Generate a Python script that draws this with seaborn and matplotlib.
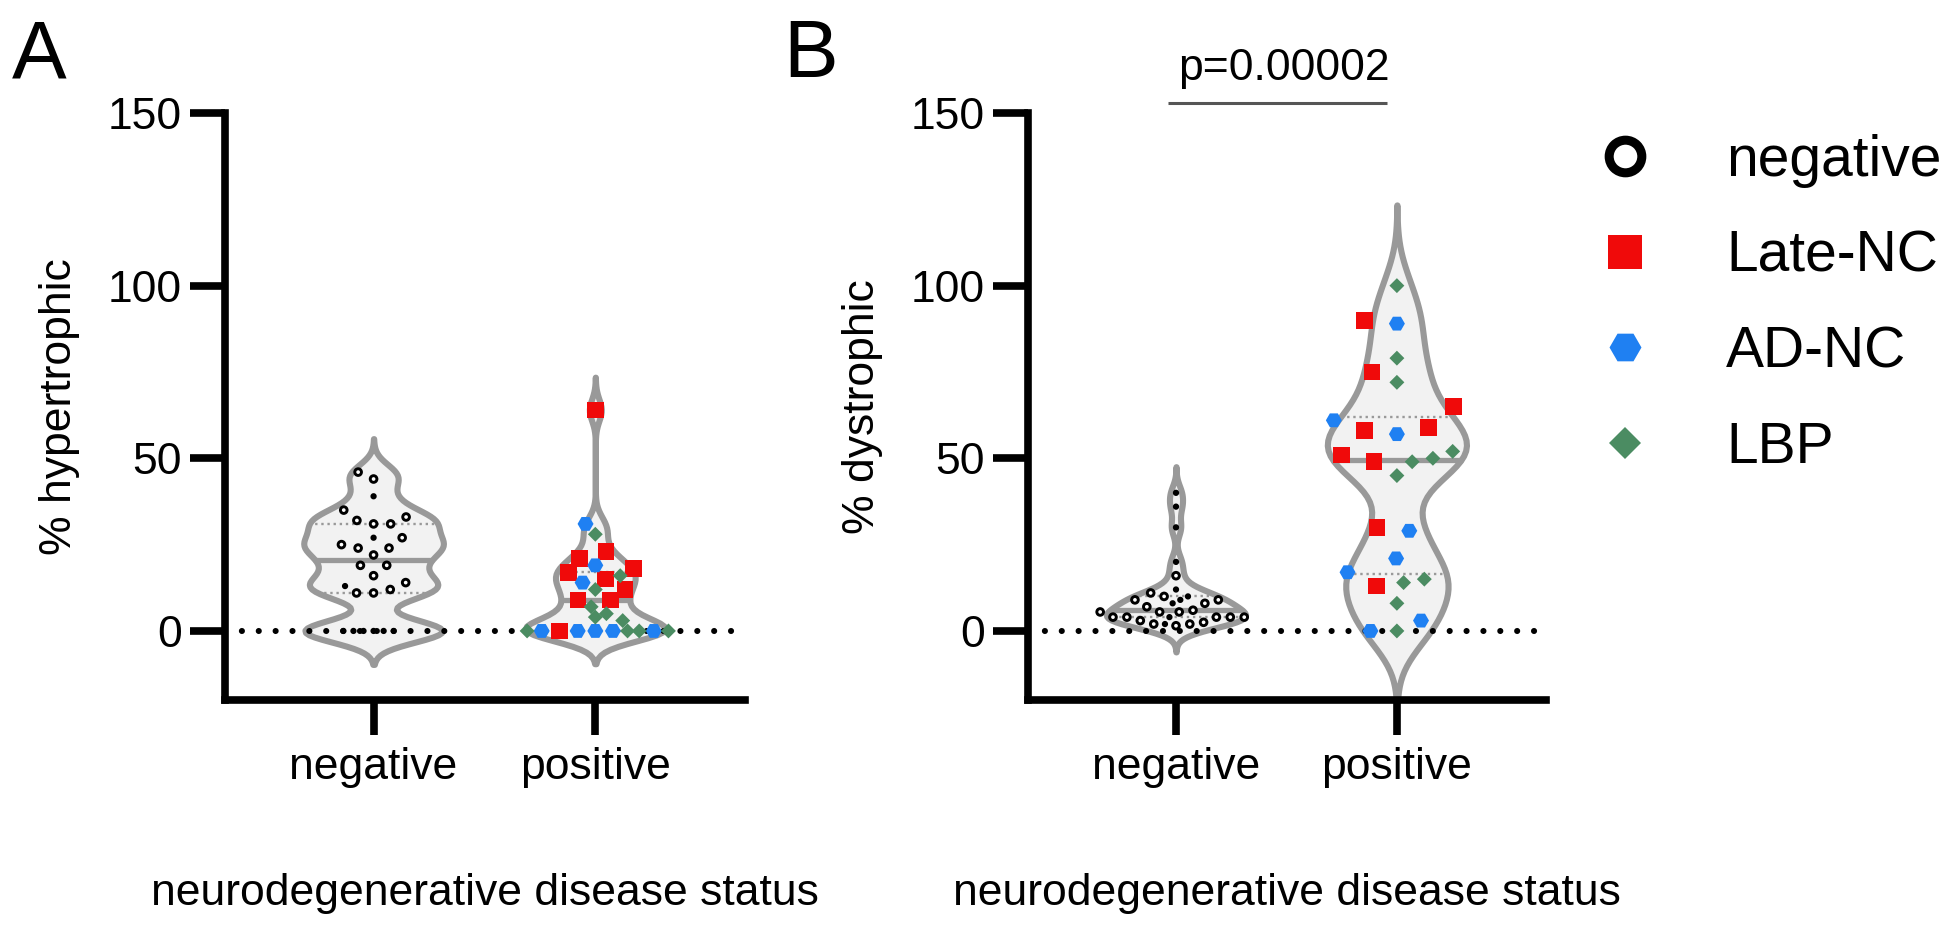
import numpy as np
import pandas as pd
import matplotlib
matplotlib.use("Agg")
import matplotlib.pyplot as plt
import seaborn as sns
from matplotlib.markers import MarkerStyle
from matplotlib.transforms import Affine2D
from matplotlib.lines import Line2D

# ---------------- data ----------------
categories = ["negative", "positive"]
groups = ["negative", "Late-NC", "AD-NC", "LBP"]

# Panel A: % hypertrophic
a_neg_open = [46, 44, 35, 33, 32, 31, 31, 27, 25, 24, 24, 22, 19, 19, 16, 14, 12, 11, 11]
a_neg_filled = [39, 27, 13, 0, 0, 0, 0, 0, 0]
a_late = [64, 23, 21, 18, 17, 15, 12, 9, 9, 0]
a_ad = [31, 19, 14, 0, 0, 0, 0, 0]
a_lbp = [28, 16, 12, 7, 5, 4, 3, 0, 0, 0, 0]

# Panel B: % dystrophic
b_neg_open = [16, 11, 10, 9, 9, 8, 7, 6, 5.5, 5.5, 5.5, 4, 4, 4, 4, 4, 3, 2.5, 2, 2, 1.5]
b_neg_filled = [40, 36, 30, 20, 12, 10, 9, 8, 4, 2]
b_late = [90, 75, 65, 59, 58, 51, 49, 30, 13]
b_ad = [89, 61, 57, 29, 21, 17, 3, 0]
b_lbp = [100, 79, 72, 52, 50, 49, 45, 15, 14, 8, 0]

y_ticks = [0, 50, 100, 150]
x_title = "neurodegenerative disease status"
y_title_a = "% hypertrophic"
y_title_b = "% dystrophic"
p_label = "p=0.00002"

# ---------------- style ----------------
RED = "#F00A0A"
BLUE = "#1F80F2"
GREEN = "#4B8C62"
V_FILL = "#F2F2F2"
V_EDGE = "#999999"

STYLE = {
    "open":   dict(marker="o", size=4.8, face="white", edge="black"),
    "filled": dict(marker="o", size=2.4, face="black", edge="black"),
    "Late-NC": dict(marker="s", size=12.0, face=RED, edge=RED),
    "AD-NC":  dict(marker="H", size=11.5, face=BLUE, edge=BLUE),
    "LBP":    dict(marker="D", size=7.6, face=GREEN, edge=GREEN),
}
EDGE_LW = {"negative": 2.1, "positive": 0.0}


def build(neg_open, neg_filled, late, ad, lbp):
    rows = []
    rows += [("negative", "negative", "open", v) for v in neg_open]
    rows += [("negative", "negative", "filled", v) for v in neg_filled]
    rows += [("positive", "Late-NC", "Late-NC", v) for v in late]
    rows += [("positive", "AD-NC", "AD-NC", v) for v in ad]
    rows += [("positive", "LBP", "LBP", v) for v in lbp]
    return pd.DataFrame(rows, columns=["status", "group", "kind", "value"])


def unit_path(marker, shrink):
    ms = MarkerStyle(marker)
    t = ms.get_transform() + Affine2D().scale(shrink)
    return ms.get_path().transformed(t)


sns.set_theme(style="white")
plt.rcParams["font.family"] = ["Liberation Sans", "DejaVu Sans"]
plt.rcParams["axes.unicode_minus"] = False
plt.rcParams["text.color"] = "black"
plt.rcParams["axes.labelcolor"] = "black"

fig = plt.figure(figsize=(19.5, 9.34), dpi=100)
axA = fig.add_axes([225 / 1950, 1 - 700 / 934, 520 / 1950, 587 / 934])
axB = fig.add_axes([1028 / 1950, 1 - 700 / 934, 518 / 1950, 587 / 934])


def draw_panel(ax, df, ylabel, spreads, bw_adjust):
    sns.violinplot(data=df, x="status", y="value", order=categories, ax=ax,
                   color=V_FILL, linecolor=V_EDGE, linewidth=4.4, saturation=1,
                   inner="quart", density_norm="width", width=0.63,
                   bw_adjust=bw_adjust, cut=3)
    for i, ln in enumerate(ax.lines):
        ln.set_color(V_EDGE)
        if i % 3 == 1:
            ln.set_linestyle("-")
            ln.set_linewidth(3.8)
        else:
            ln.set_linestyle((0, (1, 1.6)))
            ln.set_linewidth(1.7)
    for c in ax.collections:
        c.set_zorder(1)

    ax.axhline(0, color="black", lw=4.4, ls=(0, (0.01, 2.75)),
               dash_capstyle="round", zorder=2.5)

    n0 = len(ax.collections)
    sns.swarmplot(data=df, x="status", y="value", order=categories, ax=ax,
                  color="black", size=5, zorder=4, warn_thresh=1.0)
    for coll in ax.collections[n0:]:
        cx = int(np.round(coll.get_offsets()[:, 0].mean()))
        cat = categories[cx]
        spread = spreads[cat]
        sub = df[df["status"] == cat]
        paths, sizes, faces, edges = [], [], [], []
        for kind in sub["kind"]:
            st = STYLE[kind]
            paths.append(unit_path(st["marker"], 1.0 / spread))
            sizes.append((st["size"] * spread) ** 2)
            faces.append(st["face"])
            edges.append(st["edge"])
        coll.set_paths(paths)
        coll.set_sizes(sizes)
        coll.set_facecolors(faces)
        coll.set_edgecolors(edges)
        coll.set_linewidth(EDGE_LW[cat])

    ax.set_xlim(-0.67, 1.675)
    ax.set_ylim(-20, 150)
    ax.set_yticks(y_ticks)
    sns.despine(ax=ax)
    for s in ("left", "bottom"):
        ax.spines[s].set_linewidth(5.5)
        ax.spines[s].set_color("black")
    ax.tick_params(axis="both", direction="out", length=25, width=5.5,
                   color="black", labelsize=32, labelcolor="black",
                   bottom=True, left=True)
    ax.tick_params(axis="y", pad=6)
    ax.tick_params(axis="x", pad=9)
    ax.set_xlabel(x_title, fontsize=32, color="black")
    ax.xaxis.set_label_coords(0.5, -0.295)
    ax.set_ylabel(ylabel, fontsize=32, color="black")
    ax.yaxis.set_label_coords(-0.279, 0.5)
    ax.set_facecolor("white")


dfA = build(a_neg_open, a_neg_filled, a_late, a_ad, a_lbp)
dfB = build(b_neg_open, b_neg_filled, b_late, b_ad, b_lbp)

draw_panel(axA, dfA, y_title_a, {"negative": 2.0, "positive": 1.05}, 0.45)
draw_panel(axB, dfB, y_title_b, {"negative": 1.55, "positive": 1.9}, 0.52)

# significance bar
axB.plot([-0.036, 0.955], [153, 153], color="#555555", lw=2.2,
         clip_on=False, solid_capstyle="butt")
axB.text(0.489, 159.5, p_label, ha="center", va="baseline", fontsize=32,
         color="black", clip_on=False)

# panel letters
fig.text(12 / 1950, 1 - 77 / 934, "A", fontsize=59, va="baseline", ha="left", color="black")
fig.text(783 / 1950, 1 - 77 / 934, "B", fontsize=59, va="baseline", ha="left", color="black")

# legend
handles = [
    Line2D([], [], ls="none", marker="o", ms=23.5, mfc="white", mec="black", mew=6.5),
    Line2D([], [], ls="none", marker="s", ms=25, mfc=RED, mec=RED, mew=0),
    Line2D([], [], ls="none", marker="H", ms=23, mfc=BLUE, mec=BLUE, mew=0),
    Line2D([], [], ls="none", marker="D", ms=16.3, mfc=GREEN, mec=GREEN, mew=0),
]
fig.legend(handles, groups, loc="upper left",
           bbox_to_anchor=(1597 / 1950, 1 - 134 / 934), frameon=False,
           fontsize=41, handlelength=1.0, handletextpad=1.27, labelspacing=0.73,
           borderpad=0, borderaxespad=0, numpoints=1, labelcolor="black")

fig.savefig("out.png", dpi=100, facecolor="white")
